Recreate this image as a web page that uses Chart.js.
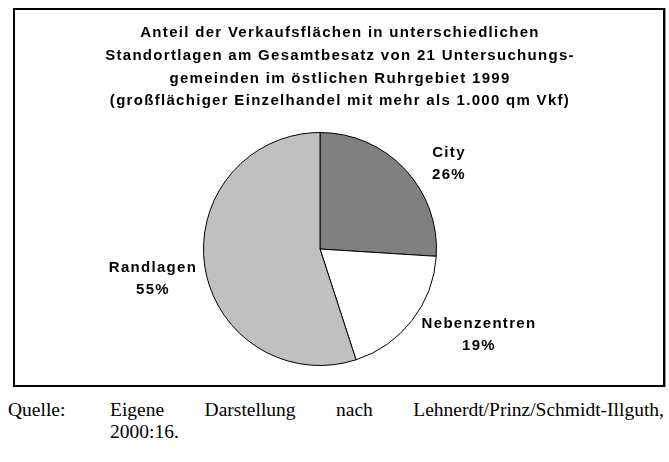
<!DOCTYPE html>
<html lang="de">
<head>
<meta charset="utf-8">
<script src="https://cdn.jsdelivr.net/npm/chart.js@4/dist/chart.umd.min.js"></script>
<style>
  html, body { margin: 0; padding: 0; background: #fff; }
  body { width: 669px; height: 462px; position: relative; overflow: hidden; }
  #box {
    position: absolute; left: 13px; top: 8px;
    width: 648px; height: 375px;
    border: 2px solid #000;
    box-shadow: 1px 0 0 #999;
  }
  #pie { display: block; }
  #source {
    position: absolute; left: 8px; top: 399px; width: 656px;
    display: flex;
    font-family: "Liberation Serif", "Times New Roman", serif;
    font-size: 19.5px; line-height: 22px; color: #000;
  }
  #source .lbl { width: 102px; flex: none; }
  #source .txt { flex: 1; }
  #source .first { text-align: justify; text-align-last: justify; }
</style>
</head>
<body>
<div id="box"><canvas id="pie" width="648" height="375"></canvas></div>
<div id="source">
  <div class="lbl">Quelle:</div>
  <div class="txt">
    <div class="first">Eigene Darstellung nach Lehnerdt/Prinz/Schmidt-Illguth,</div>
    <div>2000:16.</div>
  </div>
</div>
<script>
const titleLines = [
  "Anteil der Verkaufsflächen in unterschiedlichen",
  "Standortlagen am Gesamtbesatz von 21 Untersuchungs-",
  "gemeinden im östlichen Ruhrgebiet 1999",
  "(großflächiger Einzelhandel mit mehr als 1.000 qm Vkf)"
];
const categories = ["City", "Nebenzentren", "Randlagen"];
const shares = [26, 19, 55];
const sliceColors = ["#808080", "#ffffff", "#c0c0c0"];

// where each data label sits, relative to the pie centre
const labelOffsets = [[129, -85], [159, 86], [-167, 30]];

const textFont = 'bold 15px "Liberation Sans", Arial, sans-serif';

const outsideText = {
  id: "outsideText",
  afterDraw(chart) {
    const ctx = chart.ctx;
    ctx.save();
    ctx.font = textFont;
    ctx.fillStyle = "#000";
    ctx.textAlign = "center";
    ctx.textBaseline = "middle";
    ctx.letterSpacing = "1.3px";

    // title
    titleLines.forEach((line, i) => {
      ctx.fillText(line, chart.width / 2 + 1, 23 + i * 22.7);
    });

    // slice labels
    const meta = chart.getDatasetMeta(0);
    meta.data.forEach((arc, i) => {
      const x = arc.x + labelOffsets[i][0];
      const y = arc.y + labelOffsets[i][1];
      ctx.fillText(categories[i], x, y - 11);
      ctx.fillText(shares[i] + "%", x, y + 11);
    });
    ctx.restore();
  }
};

new Chart(document.getElementById("pie"), {
  type: "pie",
  data: {
    labels: categories,
    datasets: [{
      data: shares,
      backgroundColor: sliceColors,
      borderColor: "#000",
      borderWidth: 1
    }]
  },
  options: {
    responsive: false,
    animation: false,
    layout: { padding: { top: 122, bottom: 19, left: 0, right: 38 } },
    plugins: {
      legend: { display: false },
      tooltip: { enabled: false },
      title: { display: false }
    }
  },
  plugins: [outsideText]
});
</script>
</body>
</html>
